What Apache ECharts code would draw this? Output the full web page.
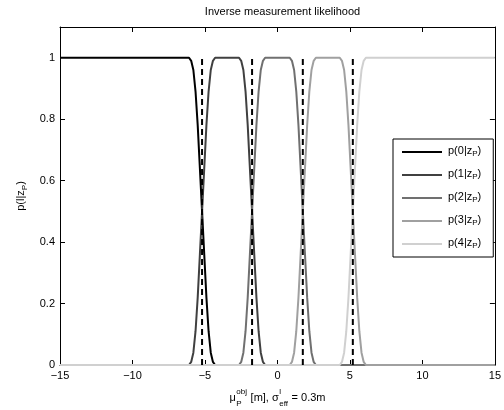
<!DOCTYPE html>
<html>
<head>
<meta charset="utf-8">
<script src="https://cdn.jsdelivr.net/npm/echarts@6/dist/echarts.min.js"></script>
<style>
  html, body { margin: 0; padding: 0; background: #fff; }
  #main { width: 504px; height: 410px; }
</style>
</head>
<body>
<div id="main"></div>
<script>
// values
const classLabels = ['0', '1', '2', '3', '4'];
const lineColors = ['#000000', '#404040', '#707070', '#a0a0a0', '#d0d0d0'];
const boundaries = [-5.2, -1.75, 1.75, 5.2];
const xTicks = [-15, -10, -5, 0, 5, 10, 15];
const yTicks = [0, 0.2, 0.4, 0.6, 0.8, 1];

const p0X = [-15, -6.1, -5.95, -5.8, -5.65, -5.5, -5.35, -5.2, -5.05, -4.9, -4.75, -4.6, -4.45, -4.3, 15];
const p0Y = [1, 1, 0.99, 0.96, 0.89, 0.78, 0.64, 0.5, 0.36, 0.22, 0.11, 0.04, 0.01, 0, 0];

const p1X = [-15, -6.1, -5.95, -5.8, -5.65, -5.5, -5.35, -5.2, -5.05, -4.9, -4.75, -4.6, -4.45, -4.3,
  -2.65, -2.5, -2.35, -2.2, -2.05, -1.9, -1.75, -1.6, -1.45, -1.3, -1.15, -1.0, -0.85, 15];
const p1Y = [0, 0, 0.01, 0.04, 0.11, 0.22, 0.36, 0.5, 0.64, 0.78, 0.89, 0.96, 0.99, 1,
  1, 0.99, 0.96, 0.89, 0.78, 0.64, 0.5, 0.36, 0.22, 0.11, 0.04, 0.01, 0, 0];

const p2X = [-15, -2.65, -2.5, -2.35, -2.2, -2.05, -1.9, -1.75, -1.6, -1.45, -1.3, -1.15, -1.0, -0.85,
  0.85, 1.0, 1.15, 1.3, 1.45, 1.6, 1.75, 1.9, 2.05, 2.2, 2.35, 2.5, 2.65, 15];
const p2Y = [0, 0, 0.01, 0.04, 0.11, 0.22, 0.36, 0.5, 0.64, 0.78, 0.89, 0.96, 0.99, 1,
  1, 0.99, 0.96, 0.89, 0.78, 0.64, 0.5, 0.36, 0.22, 0.11, 0.04, 0.01, 0, 0];

const p3X = [-15, 0.85, 1.0, 1.15, 1.3, 1.45, 1.6, 1.75, 1.9, 2.05, 2.2, 2.35, 2.5, 2.65,
  4.3, 4.45, 4.6, 4.75, 4.9, 5.05, 5.2, 5.35, 5.5, 5.65, 5.8, 5.95, 6.1, 15];
const p3Y = [0, 0, 0.01, 0.04, 0.11, 0.22, 0.36, 0.5, 0.64, 0.78, 0.89, 0.96, 0.99, 1,
  1, 0.99, 0.96, 0.89, 0.78, 0.64, 0.5, 0.36, 0.22, 0.11, 0.04, 0.01, 0, 0];

const p4X = [-15, 4.3, 4.45, 4.6, 4.75, 4.9, 5.05, 5.2, 5.35, 5.5, 5.65, 5.8, 5.95, 6.1, 15];
const p4Y = [0, 0, 0.01, 0.04, 0.11, 0.22, 0.36, 0.5, 0.64, 0.78, 0.89, 0.96, 0.99, 1, 1];

const curvesX = [p0X, p1X, p2X, p3X, p4X];
const curvesY = [p0Y, p1Y, p2Y, p3Y, p4Y];

const FONT = '"Liberation Sans", Arial, Helvetica, sans-serif';
const chart = echarts.init(document.getElementById('main'));

const rich = {
  n: { fontSize: 11, lineHeight: 14, verticalAlign: 'top', color: '#000', fontFamily: FONT },
  s: { fontSize: 8, lineHeight: 8, verticalAlign: 'top', padding: [5, 0, 0, 0], color: '#000', fontFamily: FONT }
};

const seriesName = l => 'p(' + l + '|zP)';
const curveSeries = classLabels.map((l, i) => ({
  name: seriesName(l),
  type: 'line',
  data: curvesX[i].map((x, j) => [x, curvesY[i][j]]),
  symbol: 'none',
  lineStyle: { color: lineColors[i], width: 2 },
  itemStyle: { color: lineColors[i] },
  z: 2 + i
}));
const dashSeries = boundaries.map(b => ({
  type: 'line',
  data: [[b, 0], [b, 1]],
  symbol: 'none',
  silent: true,
  lineStyle: { color: '#000', width: 2, type: [6, 4] },
  z: 10
}));

// x axis title with stacked sub/superscripts, laid out by measuring the pieces
const measure = (() => {
  const ctx = document.createElement('canvas').getContext('2d');
  return (t, size) => { ctx.font = size + 'px ' + FONT; return ctx.measureText(t).width; };
})();
const xlabelParts = [
  { text: 'μ' },
  { sup: 'obj', sub: 'P' },
  { text: ' [m], σ' },
  { sup: 'l', sub: 'eff' },
  { text: ' = 0.3m' }
];
function buildXLabel(cx, cy) {
  const widths = xlabelParts.map(p => p.text !== undefined
    ? measure(p.text, 11)
    : Math.max(measure(p.sup, 8), measure(p.sub, 8)) + 1);
  const total = widths.reduce((a, b) => a + b, 0);
  let x = cx - total / 2;
  const els = [];
  xlabelParts.forEach((p, i) => {
    if (p.text !== undefined) {
      els.push({ type: 'text', x: x, y: cy, style: { text: p.text, font: '11px ' + FONT, fill: '#000', verticalAlign: 'middle' } });
    } else {
      els.push({ type: 'text', x: x + 0.5, y: cy - 6, style: { text: p.sup, font: '8px ' + FONT, fill: '#000', verticalAlign: 'middle' } });
      els.push({ type: 'text', x: x + 0.5, y: cy + 6, style: { text: p.sub, font: '8px ' + FONT, fill: '#000', verticalAlign: 'middle' } });
    }
    x += widths[i];
  });
  return els;
}

const fmtNum = v => String(v).replace('-', '\u2212');

const option = {
  animation: false,
  backgroundColor: '#fff',
  title: {
    text: 'Inverse measurement likelihood',
    left: 277.5, textAlign: 'center',
    top: 1,
    textStyle: { fontSize: 11, fontWeight: 'normal', color: '#000', fontFamily: FONT }
  },
  grid: { left: 60, right: 9, top: 27, bottom: 45 },
  legend: {
    data: classLabels.map(seriesName),
    orient: 'vertical',
    left: 393, top: 139,
    padding: [6, 12, 7, 8],
    itemWidth: 40, itemHeight: 14, itemGap: 10,
    itemStyle: { opacity: 0 },
    backgroundColor: '#fff',
    borderColor: '#000', borderWidth: 1,
    selectedMode: false,
    formatter: name => '{n|' + name.slice(0, -2) + '}{s|P}{n|)}',
    textStyle: { rich: rich, padding: [0, 0, 0, 1] }
  },
  xAxis: [{
    type: 'value', min: -15, max: 15, interval: 5,
    axisLine: { onZero: false, lineStyle: { color: '#000', width: 1 } },
    axisTick: { inside: true, length: 5, lineStyle: { color: '#000' } },
    axisLabel: { color: '#000', fontSize: 11, fontFamily: FONT, margin: 5, formatter: fmtNum },
    splitLine: { show: false }
  }, {
    type: 'value', position: 'top', min: -15, max: 15, interval: 5,
    axisLine: { onZero: false, lineStyle: { color: '#000', width: 1 } },
    axisTick: { inside: true, length: 5, lineStyle: { color: '#000' } },
    axisLabel: { show: false },
    splitLine: { show: false }
  }],
  yAxis: [{
    type: 'value', min: 0, max: 1.1, interval: 0.2,
    name: '{n|p(l|z}{s|P}{n|)}',
    nameLocation: 'middle', nameGap: 24, nameRotate: 90,
    nameTextStyle: { rich: rich },
    axisLine: { onZero: false, lineStyle: { color: '#000', width: 1 } },
    axisTick: { inside: true, length: 5, lineStyle: { color: '#000' } },
    axisLabel: { color: '#000', fontSize: 11, fontFamily: FONT, margin: 5, showMaxLabel: false,
      formatter: v => (v > 1.05 ? '' : String(+v.toFixed(1))) },
    splitLine: { show: false }
  }, {
    type: 'value', position: 'right', min: 0, max: 1.1, interval: 0.2,
    axisLine: { onZero: false, lineStyle: { color: '#000', width: 1 } },
    axisTick: { inside: true, length: 5, lineStyle: { color: '#000' } },
    axisLabel: { show: false },
    splitLine: { show: false }
  }],
  series: curveSeries.concat(dashSeries),
  graphic: buildXLabel(277.5, 398)
};
chart.setOption(option);
</script>
</body>
</html>
